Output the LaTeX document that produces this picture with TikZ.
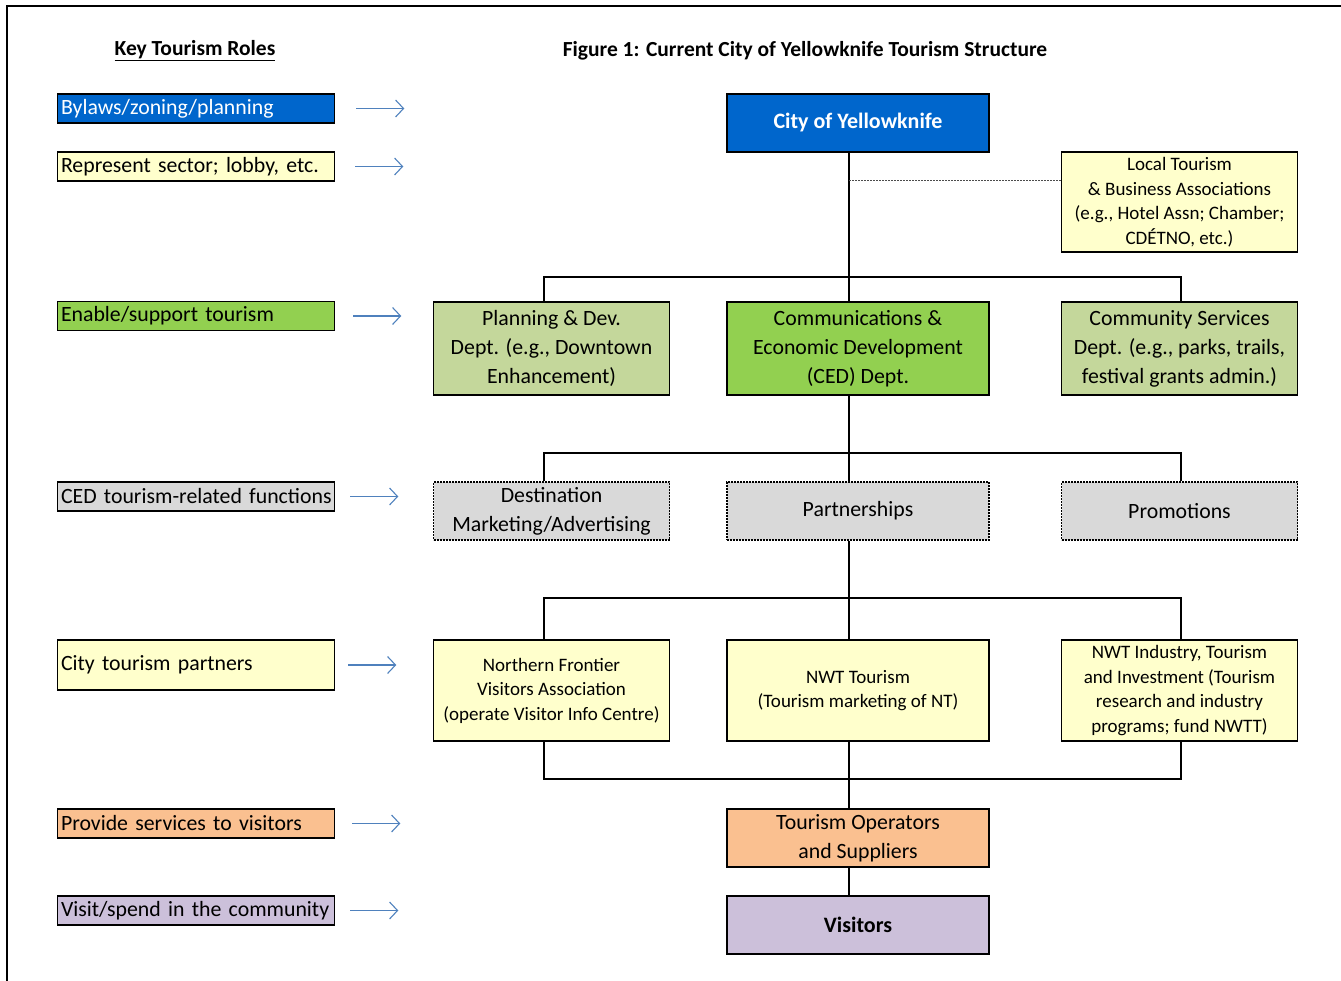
\documentclass[tikz,border=0pt]{standalone}
\usepackage{fontspec}
\setmainfont{Carlito}
\usetikzlibrary{arrows.meta, calc, positioning}
\definecolor{cityblue}{HTML}{0066CC}
\definecolor{paleyellow}{HTML}{FFFFCC}
\definecolor{cedgreen}{HTML}{92D050}
\definecolor{deptgreen}{HTML}{C4D79B}
\definecolor{fngray}{HTML}{D9D9D9}
\definecolor{opsorange}{HTML}{FAC090}
\definecolor{visitpurple}{HTML}{CCC0DA}
\definecolor{arrowblue}{HTML}{4F81BD}
\newcommand{\bigtext}{\fontsize{21.8}{29}\selectfont}
\newcommand{\smalltext}{\fontsize{19}{24.5}\selectfont}

\begin{document}
\begin{tikzpicture}[x=1pt, y=-1pt,
  box/.style={draw, line width=1.6pt, minimum width=262pt, minimum height=58pt, inner sep=1pt, align=center, font=\bigtext},
  sidebox/.style={box, minimum width=236pt},
  role/.style={draw, line width=1.6pt, minimum width=276pt, minimum height=29pt, text width=270pt, inner xsep=3.5pt, inner ysep=0pt, align=left, font=\bigtext},
  fnbox/.style={fill=fngray, line width=1.1pt, dash pattern=on 2pt off 1pt},
  link/.style={line width=1.8pt},
  assoc/.style={line width=1pt, gray!60!black, dash pattern=on 2pt off 1pt},
  rolearrow/.style={draw=arrowblue, line width=1.1pt, -{Straight Barb[length=8pt, width=17pt]}}]
\useasboundingbox (0,0) rectangle (1341,981);
\draw[line width=2pt] (7,981) -- (7,6) -- (1341,6);

\node[font=\fontsize{21.5}{25}\bfseries] (keytitle) at (195,51) {\underline{Key Tourism Roles}};
\node[font=\fontsize{21.5}{25}\bfseries] (figtitle) at (805,51) {Figure 1: Current City of Yellowknife Tourism Structure};

% roles on the left
\node[role, fill=cityblue, text=white] (bylaw) at (196,108.5) {Bylaws/zoning/planning};
\node[role, fill=paleyellow] (sector) at (196,166.5) {Represent sector; lobby, etc.};
\node[role, fill=cedgreen] (enable) at (196,316) {Enable/support tourism};
\node[role, fill=fngray] (cedfn) at (196,496.5) {\mbox{CED tourism-related functions}};
\node[role, fill=paleyellow, minimum height=50pt] (partners) at (196,665) {City tourism partners};
\node[role, fill=opsorange] (services) at (196,823.5) {Provide services to visitors};
\node[role, fill=visitpurple] (visit) at (196,910.5) {\mbox{Visit/spend in the community}};

\foreach \r/\s in {bylaw/21, sector/20, enable/18, cedfn/15, partners/13, services/17, visit/15}
  \draw[rolearrow] ([xshift=\s pt]\r.east) -- ++(48,0);

% structure
\node[box, fill=cityblue, text=white, font=\fontsize{22}{26}\bfseries] (city) at (858,123) {City of Yellowknife};
\node[sidebox, fill=paleyellow, minimum height=100pt, font=\smalltext] (local) at (1179.5,202) {Local Tourism\\\& Business Associations\\(e.g., Hotel Assn; Chamber;\\CDÉTNO, etc.)};

\node[sidebox, fill=deptgreen, minimum height=93pt] (plan) at (551.5,348.5) {Planning \& Dev.\\Dept. (e.g., Downtown\\Enhancement)};
\node[box, fill=cedgreen, minimum height=93pt] (ced) at (858,348.5) {Communications \&\\Economic Development\\(CED) Dept.};
\node[sidebox, fill=deptgreen, minimum height=93pt] (comm) at (1179.5,348.5) {Community Services\\Dept. (e.g., parks, trails,\\festival grants admin.)};

\node[sidebox, fnbox] (dest) at (551.5,511) {Destination\\Marketing/Advertising};
\node[box, fnbox] (part) at (858,511) {Partnerships};
\node[sidebox, fnbox] (promo) at (1179.5,511) {Promotions};

\node[sidebox, fill=paleyellow, minimum height=101pt, font=\smalltext] (nfva) at (551.5,690.5) {Northern Frontier\\Visitors Association\\(operate Visitor Info Centre)};
\node[box, fill=paleyellow, minimum height=101pt, font=\smalltext] (nwtt) at (858,690.5) {NWT Tourism\\(Tourism marketing of NT)};
\node[sidebox, fill=paleyellow, minimum height=101pt, font=\smalltext] (iti) at (1179.5,690.5) {NWT Industry, Tourism\\and Investment (Tourism\\research and industry\\programs; fund NWTT)};

\node[box, fill=opsorange] (ops) at (858,838) {Tourism Operators\\and Suppliers};
\node[box, fill=visitpurple, font=\fontsize{22}{26}\bfseries] (visitors) at (858,925) {Visitors};

\coordinate (spine) at (849,0);
\coordinate (leftdrop) at (544,0);
\coordinate (rightdrop) at (1181,0);
\coordinate (assocpt) at (849,181);

\draw[link] (city.south -| spine) -- (ced.north -| spine);
\draw[assoc] (assocpt) -- (assocpt -| local.west);
\draw[link] (plan.north -| leftdrop) |- (0,277 -| spine) -| (comm.north -| rightdrop);
\draw[link] (ced.south -| spine) -- (part.north -| spine);
\draw[link] (dest.north -| leftdrop) |- (0,453 -| spine) -| (promo.north -| rightdrop);
\draw[link] (part.south -| spine) -- (nwtt.north -| spine);
\draw[link] (nfva.north -| leftdrop) |- (0,598 -| spine) -| (iti.north -| rightdrop);
\draw[link] (nfva.south -| leftdrop) |- (0,779 -| spine) -| (iti.south -| rightdrop);
\draw[link] (nwtt.south -| spine) -- (ops.north -| spine);
\draw[link] (ops.south -| spine) -- (visitors.north -| spine);
\end{tikzpicture}
\end{document}
